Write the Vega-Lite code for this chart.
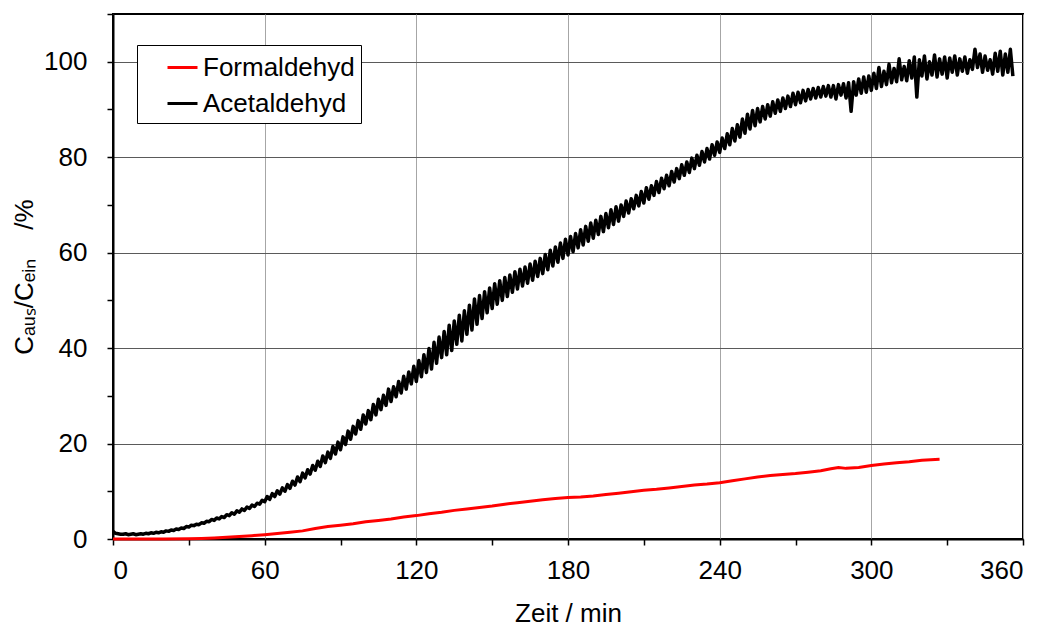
{
  "$schema": "https://vega.github.io/schema/vega-lite/v6.json",
  "width": 910,
  "height": 525,
  "autosize": "none",
  "padding": {"left": 113, "top": 14, "right": 30, "bottom": 89},
  "background": "white",
  "config": {
    "view": {"stroke": "black", "strokeWidth": 2},
    "font": "Liberation Sans",
    "axis": {
      "labelFont": "Liberation Sans",
      "labelFontSize": 26,
      "labelColor": "black",
      "titleFont": "Liberation Sans",
      "titleFontSize": 26,
      "titleFontWeight": "normal",
      "titleColor": "black",
      "domainColor": "black",
      "domainWidth": 2,
      "tickColor": "black",
      "tickWidth": 1.5,
      "tickSize": 6
    },
    "legend": {
      "labelFont": "Liberation Sans",
      "labelFontSize": 26,
      "labelColor": "black"
    }
  },
  "datasets": {
    "form": [
      {"t":0,"v":0},{"t":10,"v":0},{"t":20,"v":0},{"t":30,"v":0.05},{"t":35,"v":0.1},{"t":40,"v":0.2},{"t":45,"v":0.35},{"t":50,"v":0.5},{"t":55,"v":0.7},{"t":60,"v":0.9},{"t":65,"v":1.15},{"t":70,"v":1.4},{"t":75,"v":1.7},{"t":80,"v":2.2},{"t":85,"v":2.6},{"t":90,"v":2.9},{"t":95,"v":3.2},{"t":100,"v":3.6},{"t":105,"v":3.9},{"t":110,"v":4.2},{"t":115,"v":4.6},{"t":120,"v":4.9},{"t":125,"v":5.3},{"t":130,"v":5.6},{"t":135,"v":6.0},{"t":140,"v":6.3},{"t":145,"v":6.6},{"t":150,"v":6.9},{"t":155,"v":7.3},{"t":160,"v":7.6},{"t":165,"v":7.9},{"t":170,"v":8.2},{"t":175,"v":8.5},{"t":180,"v":8.7},{"t":185,"v":8.8},{"t":190,"v":9.0},{"t":195,"v":9.3},{"t":200,"v":9.6},{"t":205,"v":9.9},{"t":210,"v":10.2},{"t":215,"v":10.4},{"t":220,"v":10.7},{"t":225,"v":11.0},{"t":230,"v":11.3},{"t":235,"v":11.5},{"t":240,"v":11.8},{"t":245,"v":12.2},{"t":250,"v":12.6},{"t":255,"v":13.0},{"t":260,"v":13.3},{"t":265,"v":13.5},{"t":270,"v":13.7},{"t":275,"v":14.0},{"t":280,"v":14.3},{"t":284,"v":14.7},{"t":287,"v":15.0},{"t":290,"v":14.8},{"t":295,"v":15.0},{"t":300,"v":15.4},{"t":305,"v":15.7},{"t":310,"v":16.0},{"t":315,"v":16.2},{"t":320,"v":16.5},{"t":327,"v":16.7}
    ],
    "acet": [
      {"t":0,"v":1.6},{"t":1,"v":1.2},{"t":2,"v":1.1},{"t":3,"v":1.0},{"t":4,"v":1.0},{"t":5,"v":1.1},{"t":6,"v":0.9},{"t":7,"v":1.0},{"t":8,"v":1.1},{"t":9,"v":0.9},
      {"t":10,"v":1.0},{"t":11,"v":1.1},{"t":12,"v":1.0},{"t":13,"v":1.2},{"t":14,"v":1.1},{"t":15,"v":1.3},{"t":16,"v":1.2},{"t":17,"v":1.4},{"t":18,"v":1.3},{"t":19,"v":1.5},
      {"t":20,"v":1.4},{"t":21,"v":1.7},{"t":22,"v":1.6},{"t":23,"v":1.9},{"t":24,"v":1.8},{"t":25,"v":2.1},{"t":26,"v":2.0},{"t":27,"v":2.3},{"t":28,"v":2.2},{"t":29,"v":2.6},
      {"t":30,"v":2.5},{"t":31,"v":2.9},{"t":32,"v":2.8},{"t":33,"v":3.1},{"t":34,"v":3.0},{"t":35,"v":3.4},{"t":36,"v":3.3},{"t":37,"v":3.7},{"t":38,"v":3.6},{"t":39,"v":4.1},
      {"t":40,"v":3.9},{"t":41,"v":4.4},{"t":42,"v":4.2},{"t":43,"v":4.7},{"t":44,"v":4.5},{"t":45,"v":5.1},{"t":46,"v":4.9},{"t":47,"v":5.5},{"t":48,"v":5.2},{"t":49,"v":5.9},
      {"t":50,"v":5.6},{"t":51,"v":6.3},{"t":52,"v":6.0},{"t":53,"v":6.7},{"t":54,"v":6.4},{"t":55,"v":7.1},{"t":56,"v":6.8},{"t":57,"v":7.5},{"t":58,"v":7.3},{"t":59,"v":8.1},
      {"t":60,"v":7.8},{"t":61,"v":8.9},{"t":62,"v":8.3},{"t":63,"v":9.5},{"t":64,"v":8.9},{"t":65,"v":10.1},{"t":66,"v":9.4},{"t":67,"v":10.7},{"t":68,"v":10.0},{"t":69,"v":11.4},
      {"t":70,"v":10.6},{"t":71,"v":12.1},{"t":72,"v":11.3},{"t":73,"v":13.0},{"t":74,"v":12.0},{"t":75,"v":13.8},{"t":76,"v":12.8},{"t":77,"v":14.5},{"t":78,"v":13.6},{"t":79,"v":15.4},
      {"t":80,"v":14.4},{"t":81,"v":16.3},{"t":82,"v":15.2},{"t":83,"v":17.4},{"t":84,"v":16.0},{"t":85,"v":18.2},{"t":86,"v":16.9},{"t":87,"v":19.4},{"t":88,"v":17.8},{"t":89,"v":20.3},
      {"t":90,"v":18.7},{"t":91,"v":21.4},{"t":92,"v":19.8},{"t":93,"v":22.6},{"t":94,"v":20.9},{"t":95,"v":23.6},{"t":96,"v":22.0},{"t":97,"v":24.8},{"t":98,"v":23.0},{"t":99,"v":26.0},
      {"t":100,"v":24.1},{"t":101,"v":26.9},{"t":102,"v":25.0},{"t":103,"v":28.2},{"t":104,"v":26.0},{"t":105,"v":29.3},{"t":106,"v":27.1},{"t":107,"v":30.1},{"t":108,"v":28.0},{"t":109,"v":31.4},
      {"t":110,"v":28.8},{"t":111,"v":31.9},{"t":112,"v":29.8},{"t":113,"v":33.0},{"t":114,"v":30.6},{"t":115,"v":34.1},{"t":116,"v":31.4},{"t":117,"v":35.0},{"t":118,"v":32.5},{"t":119,"v":36.2},
      {"t":120,"v":33.0},{"t":121,"v":37.4},{"t":122,"v":34.0},{"t":123,"v":38.6},{"t":124,"v":34.9},{"t":125,"v":39.9},{"t":126,"v":35.6},{"t":127,"v":41.2},{"t":128,"v":36.8},{"t":129,"v":42.3},
      {"t":130,"v":38.0},{"t":131,"v":43.5},{"t":132,"v":38.6},{"t":133,"v":44.8},{"t":134,"v":39.5},{"t":135,"v":45.7},{"t":136,"v":40.8},{"t":137,"v":46.9},{"t":138,"v":41.5},{"t":139,"v":47.8},
      {"t":140,"v":42.9},{"t":141,"v":49.0},{"t":142,"v":43.8},{"t":143,"v":50.3},{"t":144,"v":45.0},{"t":145,"v":51.0},{"t":146,"v":46.2},{"t":147,"v":51.8},{"t":148,"v":47.4},{"t":149,"v":52.6},
      {"t":150,"v":48.3},{"t":151,"v":53.5},{"t":152,"v":49.2},{"t":153,"v":54.1},{"t":154,"v":50.0},{"t":155,"v":54.8},{"t":156,"v":50.8},{"t":157,"v":55.3},{"t":158,"v":51.7},{"t":159,"v":56.0},
      {"t":160,"v":52.4},{"t":161,"v":56.5},{"t":162,"v":53.0},{"t":163,"v":57.0},{"t":164,"v":53.6},{"t":165,"v":57.6},{"t":166,"v":54.2},{"t":167,"v":58.2},{"t":168,"v":55.0},{"t":169,"v":58.8},
      {"t":170,"v":55.6},{"t":171,"v":59.6},{"t":172,"v":56.4},{"t":173,"v":60.5},{"t":174,"v":57.2},{"t":175,"v":61.2},{"t":176,"v":58.0},{"t":177,"v":62.0},{"t":178,"v":58.8},{"t":179,"v":62.8},
      {"t":180,"v":59.5},{"t":181,"v":63.4},{"t":182,"v":60.2},{"t":183,"v":64.0},{"t":184,"v":61.0},{"t":185,"v":64.8},{"t":186,"v":61.6},{"t":187,"v":65.5},{"t":188,"v":62.4},{"t":189,"v":66.2},
      {"t":190,"v":63.0},{"t":191,"v":66.8},{"t":192,"v":63.8},{"t":193,"v":67.6},{"t":194,"v":64.4},{"t":195,"v":68.2},{"t":196,"v":65.2},{"t":197,"v":69.0},{"t":198,"v":65.9},{"t":199,"v":69.6},
      {"t":200,"v":66.6},{"t":201,"v":70.0},{"t":202,"v":67.6},{"t":203,"v":70.8},{"t":204,"v":68.3},{"t":205,"v":71.3},{"t":206,"v":69.2},{"t":207,"v":72.0},{"t":208,"v":69.8},{"t":209,"v":72.8},
      {"t":210,"v":70.4},{"t":211,"v":73.6},{"t":212,"v":71.2},{"t":213,"v":74.0},{"t":214,"v":72.0},{"t":215,"v":74.9},{"t":216,"v":72.6},{"t":217,"v":75.6},{"t":218,"v":73.4},{"t":219,"v":76.2},
      {"t":220,"v":74.0},{"t":221,"v":77.0},{"t":222,"v":74.8},{"t":223,"v":77.6},{"t":224,"v":75.5},{"t":225,"v":78.4},{"t":226,"v":76.2},{"t":227,"v":79.0},{"t":228,"v":76.8},{"t":229,"v":79.8},
      {"t":230,"v":77.6},{"t":231,"v":80.4},{"t":232,"v":78.3},{"t":233,"v":81.2},{"t":234,"v":79.0},{"t":235,"v":81.8},{"t":236,"v":79.6},{"t":237,"v":82.6},{"t":238,"v":80.4},{"t":239,"v":83.2},
      {"t":240,"v":81.0},{"t":241,"v":84.0},{"t":242,"v":81.8},{"t":243,"v":84.9},{"t":244,"v":82.6},{"t":245,"v":86.0},{"t":246,"v":83.4},{"t":247,"v":86.8},{"t":248,"v":84.2},{"t":249,"v":88.0},
      {"t":250,"v":85.0},{"t":251,"v":89.0},{"t":252,"v":85.9},{"t":253,"v":89.8},{"t":254,"v":86.6},{"t":255,"v":90.2},{"t":256,"v":87.4},{"t":257,"v":90.6},{"t":258,"v":88.0},{"t":259,"v":91.0},
      {"t":260,"v":88.6},{"t":261,"v":91.6},{"t":262,"v":89.2},{"t":263,"v":92.0},{"t":264,"v":89.6},{"t":265,"v":92.4},{"t":266,"v":90.2},{"t":267,"v":92.8},{"t":268,"v":90.6},{"t":269,"v":93.4},
      {"t":270,"v":91.0},{"t":271,"v":93.6},{"t":272,"v":91.4},{"t":273,"v":94.0},{"t":274,"v":91.8},{"t":275,"v":94.2},{"t":276,"v":92.2},{"t":277,"v":94.4},{"t":278,"v":92.4},{"t":279,"v":94.6},
      {"t":280,"v":92.6},{"t":281,"v":94.8},{"t":282,"v":92.8},{"t":283,"v":95.0},{"t":284,"v":92.6},{"t":285,"v":95.0},{"t":286,"v":92.2},{"t":287,"v":95.2},{"t":288,"v":93.0},{"t":289,"v":95.4},
      {"t":290,"v":92.4},{"t":291,"v":95.6},{"t":292,"v":89.6},{"t":293,"v":95.8},{"t":294,"v":93.0},{"t":295,"v":96.4},{"t":296,"v":93.4},{"t":297,"v":96.8},{"t":298,"v":93.6},{"t":299,"v":97.0},
      {"t":300,"v":94.0},{"t":301,"v":97.6},{"t":302,"v":94.4},{"t":303,"v":98.8},{"t":304,"v":94.8},{"t":305,"v":98.0},{"t":306,"v":95.2},{"t":307,"v":99.5},{"t":308,"v":95.6},{"t":309,"v":98.6},
      {"t":310,"v":95.8},{"t":311,"v":100.6},{"t":312,"v":96.2},{"t":313,"v":99.0},{"t":314,"v":96.0},{"t":315,"v":100.2},{"t":316,"v":96.6},{"t":317,"v":101.0},{"t":318,"v":92.6},{"t":319,"v":100.4},
      {"t":320,"v":97.0},{"t":321,"v":101.2},{"t":322,"v":96.4},{"t":323,"v":100.0},{"t":324,"v":97.2},{"t":325,"v":101.4},{"t":326,"v":96.8},{"t":327,"v":100.6},{"t":328,"v":97.4},{"t":329,"v":101.0},
      {"t":330,"v":96.6},{"t":331,"v":100.8},{"t":332,"v":97.8},{"t":333,"v":101.2},{"t":334,"v":97.2},{"t":335,"v":100.6},{"t":336,"v":98.0},{"t":337,"v":101.0},{"t":338,"v":97.6},{"t":339,"v":100.4},
      {"t":340,"v":98.4},{"t":341,"v":102.6},{"t":342,"v":98.8},{"t":343,"v":101.6},{"t":344,"v":97.8},{"t":345,"v":101.2},{"t":346,"v":98.2},{"t":347,"v":100.4},{"t":348,"v":97.4},{"t":349,"v":101.8},
      {"t":350,"v":98.0},{"t":351,"v":102.2},{"t":352,"v":97.2},{"t":353,"v":101.6},{"t":354,"v":97.8},{"t":355,"v":102.6},{"t":356,"v":97.0}
    ]
  },
  "encoding": {
    "x": {
      "field": "t", "type": "quantitative",
      "scale": {"domain": [0, 360], "nice": false, "zero": false},
      "axis": {
        "title": "Zeit / min",
        "titlePadding": 17,
        "labelPadding": 12,
        "values": [0,30,60,90,120,150,180,210,240,270,300,330,360],
        "labelExpr": "datum.value % 60 === 0 ? datum.label : ''",
        "grid": true,
        "gridColor": "#a6a6a6",
        "gridWidth": 1,
        "gridOpacity": {"condition": {"test": "datum.value % 60 !== 0", "value": 0}, "value": 1}
      }
    },
    "y": {
      "field": "v", "type": "quantitative",
      "scale": {"domain": [0, 110], "nice": false, "zero": false},
      "axis": {
        "title": "Cₐᵤₛ/Cₑᵢₙ\u00a0\u00a0\u00a0 /%",
        "titlePadding": 6,
        "labelPadding": 20,
        "values": [0,10,20,30,40,50,60,70,80,90,100,110],
        "labelExpr": "(datum.value % 20 === 0 && datum.value <= 100) ? datum.label : ''",
        "grid": true,
        "gridColor": "#5a5a5a",
        "gridWidth": 1,
        "gridOpacity": {"condition": {"test": "datum.value % 20 !== 0 || datum.value > 100", "value": 0}, "value": 1}
      }
    }
  },
  "layer": [
    {
      "data": {"name": "acet"},
      "mark": {"type": "line", "strokeWidth": 3.5, "strokeJoin": "round"},
      "encoding": {
        "color": {
          "datum": "Acetaldehyd",
          "type": "nominal",
          "scale": {"domain": ["Formaldehyd", "Acetaldehyd"], "range": ["#ff0000", "#000000"]},
          "legend": {
            "title": null,
            "orient": "none",
            "legendX": 24,
            "legendY": 31,
            "direction": "vertical",
            "strokeColor": "black",
            "fillColor": "white",
            "padding": 6,
            "symbolType": "stroke",
            "symbolStrokeWidth": 3,
            "symbolSize": 900,
            "symbolOffset": 23,
            "labelOffset": 4,
            "rowPadding": 6,
            "labelLimit": 400,
            "labelExpr": "datum.label + '\u00a0\u00a0\u00a0\u00a0'"
          }
        }
      }
    },
    {
      "data": {"name": "form"},
      "mark": {"type": "line", "strokeWidth": 3},
      "encoding": {"color": {"datum": "Formaldehyd", "type": "nominal"}}
    }
  ]
}
